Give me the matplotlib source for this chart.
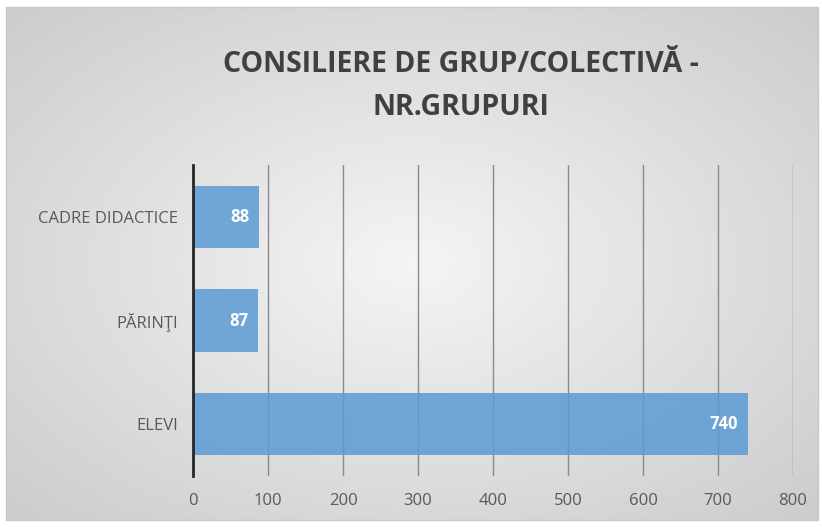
import matplotlib.pyplot as plt
import numpy as np

categories = ['ELEVI', 'PĂRINŢI', 'CADRE DIDACTICE']
values = [740, 87, 88]
title = 'CONSILIERE DE GRUP/COLECTIVĂ -\nNR.GRUPURI'

plt.rcParams['font.family'] = ['Open Sans', 'DejaVu Sans']

fig = plt.figure(figsize=(8.22, 5.27), dpi=100)

# radial gray gradient background
bg = fig.add_axes([6/822, 7/527, 812/822, 513/527])
yy, xx = np.mgrid[-1:1:300j, -1:1:500j]
r = np.clip(np.sqrt(xx**2 + yy**2) / np.sqrt(2), 0, 1)
inner = np.array([0.96, 0.96, 0.96])
outer = np.array([0.80, 0.80, 0.80])
img = inner + (outer - inner) * r[..., None]
bg.imshow(img, aspect='auto', extent=[0, 1, 0, 1])
bg.set_axis_off()
fig.patches.append(plt.Rectangle((6/822, 7/527), 812/822, 513/527, transform=fig.transFigure,
                                 fill=False, edgecolor='#c8c8c8', lw=1))

ax = fig.add_axes([193/822, 51/527, 600/822, 311/527])
ax.patch.set_alpha(0)
y = np.arange(len(categories))
bars = ax.barh(y, values, height=0.6, color='#5b9bd5', alpha=0.85, zorder=2)
for b, v in zip(bars, values):
    ax.text(v - 13, b.get_y() + b.get_height()/2, str(v), ha='right', va='center',
            color='white', fontsize=12, fontweight='bold', zorder=3)

ax.set_xlim(0, 800)
ax.set_ylim(-0.5, 2.5)
ax.set_xticks(range(0, 801, 100))
ax.set_yticks(y)
ax.set_yticklabels(categories)
ax.xaxis.grid(True, color='#8a8a8a', lw=1, zorder=1)
ax.tick_params(length=0, labelsize=12, labelcolor='#595959')
ax.tick_params(axis='x', pad=12)
ax.tick_params(axis='y', pad=11)
for s in ['top', 'right', 'bottom']:
    ax.spines[s].set_visible(False)
ax.spines['left'].set_color('#262626')
ax.spines['left'].set_linewidth(2)

fig.text(461/822, 1 - 86/527, title, ha='center', va='center', fontsize=20.5,
         fontweight='bold', color='#404040', linespacing=1.6)

fig.savefig('out.png', dpi=100)
